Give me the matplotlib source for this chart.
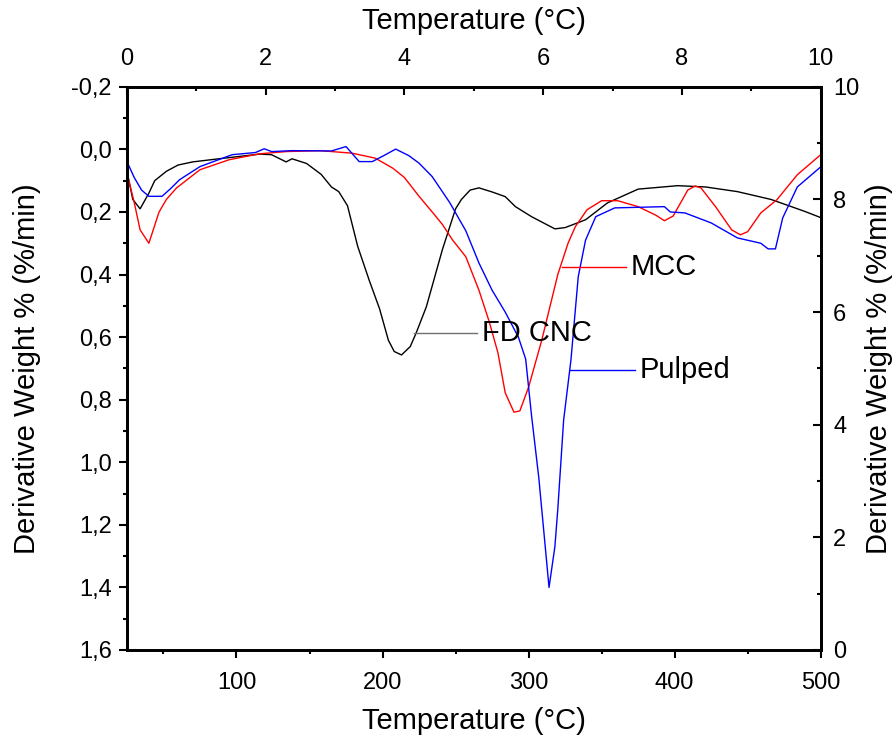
import matplotlib.pyplot as plt
import numpy as np
from matplotlib.ticker import MultipleLocator, FuncFormatter

plt.rcParams["font.family"] = ["Liberation Sans", "DejaVu Sans"]

# FD CNC (black)
cnc_t = [25, 29, 34, 40, 44, 52, 60, 70, 88, 116, 124, 134, 138, 148, 158, 165,
         170, 176, 183, 191, 198, 204, 208, 213, 219, 223, 230, 241, 250, 254,
         260, 266, 275, 284, 291, 302, 318, 325, 339, 354, 375, 402, 421, 443,
         466, 489, 500]
cnc_d = [0.07, 0.16, 0.19, 0.14, 0.10, 0.07, 0.05, 0.04, 0.03, 0.015, 0.017,
         0.04, 0.03, 0.045, 0.08, 0.12, 0.135, 0.18, 0.31, 0.42, 0.51, 0.61,
         0.646, 0.657, 0.63, 0.587, 0.503, 0.32, 0.19, 0.16, 0.13, 0.123,
         0.136, 0.151, 0.183, 0.215, 0.254, 0.25, 0.225, 0.171, 0.127, 0.116,
         0.12, 0.135, 0.16, 0.198, 0.218]

# MCC (red)
mcc_t = [25, 30, 34, 40, 47, 52, 59, 75, 95, 116, 134, 157, 179, 195, 207, 215,
         225, 234, 241, 248, 257, 266, 273, 279, 284, 290, 294, 300, 309, 320,
         327, 332, 340, 350, 361, 375, 387, 393, 399, 409, 414, 418, 428, 439,
         445, 450, 459, 470, 484, 500]
mcc_d = [0.075, 0.17, 0.257, 0.30, 0.20, 0.16, 0.123, 0.065, 0.033, 0.014,
         0.007, 0.004, 0.012, 0.028, 0.06, 0.09, 0.15, 0.20, 0.24, 0.29, 0.343,
         0.45, 0.55, 0.65, 0.778, 0.84, 0.836, 0.76, 0.61, 0.40, 0.30, 0.247,
         0.193, 0.164, 0.164, 0.183, 0.21, 0.228, 0.213, 0.13, 0.117, 0.123,
         0.183, 0.257, 0.273, 0.263, 0.203, 0.161, 0.081, 0.017]

# Pulped (blue)
pul_t = [25, 30, 35, 40, 49, 55, 61, 75, 97, 113, 119, 124, 138, 165, 175, 184,
         193, 202, 209, 218, 225, 234, 246, 257, 266, 275, 284, 293, 298, 302,
         307, 311, 314, 318, 320, 324, 329, 334, 339, 346, 359, 393, 397, 407,
         425, 443, 459, 464, 469, 474, 484, 500]
pul_d = [0.039, 0.09, 0.13, 0.15, 0.15, 0.125, 0.097, 0.055, 0.017, 0.01,
         -0.002, 0.007, 0.004, 0.005, -0.009, 0.039, 0.039, 0.017, -0.001,
         0.02, 0.044, 0.087, 0.17, 0.26, 0.363, 0.45, 0.52, 0.6, 0.67, 0.85,
         1.05, 1.25, 1.40, 1.27, 1.15, 0.865, 0.673, 0.407, 0.29, 0.215, 0.187,
         0.183, 0.2, 0.203, 0.235, 0.283, 0.3, 0.318, 0.318, 0.219, 0.12, 0.056]

# labels: (text, leader x0, leader x1, y, colour)
labels = [
    ("FD CNC", 221.5, 264.5, 0.586, "#707070"),
    ("MCC", 322.6, 366.7, 0.375, "red"),
    ("Pulped", 328.3, 372.7, 0.705, "blue"),
]

fig = plt.figure(figsize=(8.94, 7.42), dpi=100)
ax = fig.add_axes([0.142, 0.124, 0.776, 0.759])

ax.plot(cnc_t, cnc_d, color="black", lw=1.0)
ax.plot(mcc_t, mcc_d, color="red", lw=1.0)
ax.plot(pul_t, pul_d, color="blue", lw=1.0)

for txt, x0, x1, y, c in labels:
    ax.plot([x0, x1], [y, y], color=c, lw=1.0)
    ax.text(x1 + 3.5, y, txt, fontsize=21, va="center", ha="left")

ax.set_xlim(25, 500)
ax.set_ylim(1.6, -0.2)
ax.xaxis.set_major_locator(MultipleLocator(100))
ax.xaxis.set_minor_locator(MultipleLocator(50))
ax.yaxis.set_major_locator(MultipleLocator(0.2))
ax.yaxis.set_minor_locator(MultipleLocator(0.1))
ax.yaxis.set_major_formatter(FuncFormatter(lambda v, p: f"{v:.1f}".replace(".", ",").replace("-0,0", "0,0")))
ax.set_xlabel("Temperature (°C)", fontsize=21, labelpad=9)
ax.set_ylabel("Derivative Weight % (%/min)", fontsize=21, labelpad=22)
ax.tick_params(which="both", direction="out", width=1.5, labelsize=17)
ax.tick_params(which="major", length=6)
ax.tick_params(which="minor", length=3)
ax.tick_params(axis="x", which="major", pad=10)
ax.tick_params(axis="y", which="major", pad=5)

# right axis
axr = ax.twinx()
axr.set_ylim(0, 10)
axr.yaxis.set_major_locator(MultipleLocator(2))
axr.yaxis.set_minor_locator(MultipleLocator(1))
axr.set_ylabel("Derivative Weight % (%/min)", fontsize=21, labelpad=4)

# top axis
axt = ax.twiny()
axt.set_xlim(0, 10)
axt.xaxis.set_major_locator(MultipleLocator(2))
axt.xaxis.set_minor_locator(MultipleLocator(1))
axt.set_xlabel("Temperature (°C)", fontsize=21, labelpad=14)

for a in (axr, axt):
    a.tick_params(which="both", direction="in", width=1.5, labelsize=17)
    a.tick_params(which="major", length=6)
    a.tick_params(which="minor", length=3)
axr.tick_params(which="major", pad=9)
axt.tick_params(which="major", pad=12)

for a in (ax, axr, axt):
    for s in a.spines.values():
        s.set_linewidth(1.8)

fig.savefig("out.png", dpi=100)
